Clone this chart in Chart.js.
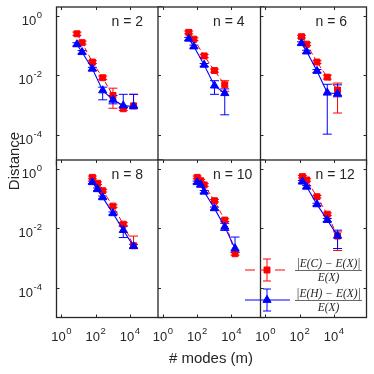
<!DOCTYPE html>
<html>
<head>
<meta charset="utf-8">
<script src="https://cdn.jsdelivr.net/npm/chart.js@4.4.1/dist/chart.umd.min.js"></script>
<style>
    body { margin: 0; background: #fff; }
    #wrap { position: relative; width: 374px; height: 374px; overflow: hidden; }
    #wrap canvas { position: absolute; left: 0; top: 0; }
    .lbl { position: absolute; font-family: "Liberation Sans", Arial, sans-serif; font-size: 15px; font-weight: normal; color: #262626; white-space: nowrap; }
    #xlab { left: 211px; top: 357px; transform: translate(-50%, -50%); }
</style>
</head>
<body>
<div id="wrap">
    <canvas id="c0" width="374" height="374"></canvas>
    <canvas id="c1" width="374" height="374"></canvas>
    <canvas id="c2" width="374" height="374"></canvas>
    <canvas id="c3" width="374" height="374"></canvas>
    <canvas id="c4" width="374" height="374"></canvas>
    <canvas id="c5" width="374" height="374"></canvas>
    <div class="lbl" id="xlab"># modes (m)</div>
</div>
<script>
// Valores (un sub-array por panel, n = 2..12)
const panelN = [2, 4, 6, 8, 10, 12];
const xTickExp = [0, 2, 4];
const yTickExp = [0, -2, -4];
const yTitle = 'Distance';

const modes = [
    [8, 16, 64, 256, 1024, 4096, 16384],
    [32, 64, 256, 1024, 4096],
    [128, 256, 1024, 4096, 16384],
    [64, 128, 256, 1024, 4096, 16384],
    [100, 160, 256, 1024, 4096, 16384],
    [144, 256, 1024, 4096, 16384]
];
// |E(C)-E(X)|/E(X)
const distC = [
    [0.25, 0.126, 0.028, 0.0083, 0.0021, 0.00075, 0.00094],
    [0.28, 0.165, 0.045, 0.0145, 0.0048],
    [0.2, 0.112, 0.028, 0.0087, 0.0032],
    [0.52, 0.33, 0.185, 0.056, 0.0138, 0.0026],
    [0.52, 0.4, 0.29, 0.085, 0.019, 0.0014],
    [0.55, 0.425, 0.116, 0.03, 0.0055]
];
const distCLow = [
    [0.22, 0.112, 0.025, 0.0073, 0.00078, 0.00066, 0.0008],
    [0.25, 0.148, 0.04, 0.0128, 0.0029],
    [0.18, 0.1, 0.025, 0.0075, 0.00054],
    [0.47, 0.3, 0.167, 0.05, 0.0122, 0.0021],
    [0.47, 0.36, 0.26, 0.077, 0.017, 0.00125],
    [0.5, 0.385, 0.105, 0.027, 0.0018]
];
const distCHigh = [
    [0.285, 0.142, 0.031, 0.0095, 0.0037, 0.00085, 0.0023],
    [0.31, 0.183, 0.05, 0.0163, 0.0066],
    [0.222, 0.125, 0.031, 0.0101, 0.0055],
    [0.575, 0.365, 0.205, 0.062, 0.0156, 0.0055],
    [0.575, 0.44, 0.32, 0.094, 0.021, 0.00155],
    [0.605, 0.465, 0.128, 0.033, 0.0076]
];
// |E(H)-E(X)|/E(X)
const distH = [
    [0.11, 0.06, 0.0166, 0.0031, 0.0015, 0.00096, 0.0009],
    [0.17, 0.093, 0.0225, 0.0045, 0.0025],
    [0.12, 0.063, 0.014, 0.0026, 0.0024],
    [0.355, 0.206, 0.11, 0.032, 0.0087, 0.0025],
    [0.355, 0.29, 0.17, 0.047, 0.0112, 0.0021],
    [0.37, 0.25, 0.064, 0.019, 0.0056]
];
const distHLow = [
    [0.097, 0.053, 0.0148, 0.0015, 0.0011, 0.0008, 0.00085],
    [0.152, 0.083, 0.02, 0.0023, 0.00047],
    [0.107, 0.056, 0.0124, 0.000105, 0.0019],
    [0.32, 0.185, 0.099, 0.0288, 0.0049, 0.0022],
    [0.32, 0.26, 0.153, 0.042, 0.0085, 0.0016],
    [0.335, 0.225, 0.058, 0.0168, 0.0021]
];
const distHHigh = [
    [0.125, 0.068, 0.0186, 0.004, 0.0021, 0.0023, 0.0023],
    [0.19, 0.104, 0.025, 0.0066, 0.0035],
    [0.134, 0.07, 0.0157, 0.005, 0.0048],
    [0.39, 0.228, 0.122, 0.0355, 0.0118, 0.0029],
    [0.39, 0.32, 0.188, 0.052, 0.0148, 0.0051],
    [0.405, 0.275, 0.07, 0.0215, 0.0087]
];

// Layout de los paneles (px)
const colLeft = [56.5, 158, 260.5];
const panelW = 106;
const rowTop = [7, 160];
const panelH = 157.5;
const pxPerDecX = 17.1;
const xMinExp = -0.292;
const yMinExp = -5, yMaxExp = 0.3;
const frameColor = '#262626';
const FONT = '"Liberation Sans", Arial, sans-serif';

function drawPow(ctx, exp, x, y, anchor) {
    ctx.font = '13px ' + FONT;
    const wBase = ctx.measureText('10').width;
    ctx.font = '9.5px ' + FONT;
    const e = String(exp);
    const wExp = ctx.measureText(e).width;
    const w = wBase + wExp + 0.5;
    const x0 = anchor === 'right' ? x - w : x - w / 2;
    ctx.textAlign = 'left';
    ctx.textBaseline = 'alphabetic';
    ctx.font = '13px ' + FONT;
    ctx.fillText('10', x0, y);
    ctx.font = '9.5px ' + FONT;
    ctx.fillText(e, x0 + wBase + 0.5, y - 7);
}

function drawLegend(chart) {
    const ctx = chart.ctx;
    const rows = [
        { ds: chart.data.datasets[0], y: 270, num: '|E(C) \u2212 E(X)|' },
        { ds: chart.data.datasets[1], y: 300, num: '|E(H) \u2212 E(X)|' }
    ];
    rows.forEach(r => {
        ctx.save();
        ctx.strokeStyle = r.ds.borderColor;
        ctx.lineWidth = r.ds.borderWidth;
        ctx.setLineDash(r.ds.legendDash || []);
        ctx.beginPath();
        ctx.moveTo(245, r.y);
        ctx.lineTo(290, r.y);
        ctx.stroke();
        ctx.setLineDash([]);
        ctx.lineWidth = 1;
        ctx.beginPath();
        ctx.moveTo(267, r.y - 11); ctx.lineTo(267, r.y + 11);
        ctx.moveTo(263, r.y - 11); ctx.lineTo(271, r.y - 11);
        ctx.moveTo(263, r.y + 11); ctx.lineTo(271, r.y + 11);
        ctx.stroke();
        ctx.fillStyle = r.ds.pointBackgroundColor;
        ctx.strokeStyle = r.ds.pointBorderColor;
        ctx.lineWidth = r.ds.pointBorderWidth;
        Chart.helpers.drawPoint(ctx, {
            pointStyle: r.ds.pointStyle, radius: r.ds.pointRadius,
            borderWidth: r.ds.pointBorderWidth, rotation: 0
        }, 267, r.y);
        // fracción
        ctx.fillStyle = frameColor;
        ctx.strokeStyle = frameColor;
        ctx.font = 'italic 11.5px "Liberation Serif", "Times New Roman", serif';
        ctx.textAlign = 'center';
        ctx.textBaseline = 'alphabetic';
        ctx.fillText(r.num, 328.5, r.y - 3);
        ctx.fillText('E(X)', 328.5, r.y + 10.5);
        ctx.lineWidth = 0.7;
        ctx.beginPath();
        ctx.moveTo(295, r.y + 0.5);
        ctx.lineTo(362, r.y + 0.5);
        ctx.stroke();
        ctx.restore();
    });
}

const panelPlugin = {
    id: 'panelFrame',
    beforeDraw(chart) {
        const a = chart.chartArea;
        const ctx = chart.ctx;
        ctx.save();
        ctx.fillStyle = '#fff';
        ctx.fillRect(a.left, a.top, a.right - a.left, a.bottom - a.top);
        ctx.restore();
    },
    beforeDatasetsDraw(chart) {
        const ctx = chart.ctx;
        const ys = chart.scales.y;
        ctx.save();
        chart.data.datasets.forEach((ds, di) => {
            const meta = chart.getDatasetMeta(di);
            ctx.strokeStyle = ds.borderColor;
            ctx.lineWidth = 1;
            ctx.beginPath();
            meta.data.forEach((pt, i) => {
                const y1 = ys.getPixelForValue(ds.errLow[i]);
                const y2 = ys.getPixelForValue(ds.errHigh[i]);
                ctx.moveTo(pt.x, y1); ctx.lineTo(pt.x, y2);
                ctx.moveTo(pt.x - 4.5, y1); ctx.lineTo(pt.x + 4.5, y1);
                ctx.moveTo(pt.x - 4.5, y2); ctx.lineTo(pt.x + 4.5, y2);
            });
            ctx.stroke();
        });
        ctx.restore();
    },
    afterDraw(chart, args, opts) {
        const ctx = chart.ctx;
        const a = chart.chartArea;
        const xs = chart.scales.x, ys = chart.scales.y;
        ctx.save();
        ctx.strokeStyle = frameColor;
        ctx.lineWidth = 1.3;
        ctx.strokeRect(a.left, a.top, a.right - a.left, a.bottom - a.top);
        ctx.lineWidth = 1;
        ctx.beginPath();
        xTickExp.forEach(e => {
            const x = Math.round(xs.getPixelForValue(Math.pow(10, e))) + 0.5;
            ctx.moveTo(x, a.bottom); ctx.lineTo(x, a.bottom - 3);
            ctx.moveTo(x, a.top); ctx.lineTo(x, a.top + 3);
        });
        yTickExp.forEach(e => {
            const y = Math.round(ys.getPixelForValue(Math.pow(10, e))) + 0.5;
            ctx.moveTo(a.left, y); ctx.lineTo(a.left + 3, y);
            ctx.moveTo(a.right, y); ctx.lineTo(a.right - 3, y);
        });
        ctx.stroke();
        ctx.fillStyle = frameColor;
        if (opts.yLabels) {
            yTickExp.forEach(e => drawPow(ctx, e, 42, ys.getPixelForValue(Math.pow(10, e)) + 9, 'right'));
        }
        if (opts.xLabels) {
            xTickExp.forEach(e => drawPow(ctx, e, xs.getPixelForValue(Math.pow(10, e)), a.bottom + 23.5, 'center'));
        }
        if (opts.yTitle) {
            // título del eje y, centrado entre las dos filas
            ctx.save();
            ctx.translate(19, 161);
            ctx.rotate(-Math.PI / 2);
            ctx.font = '15px ' + FONT;
            ctx.textAlign = 'center';
            ctx.textBaseline = 'alphabetic';
            ctx.fillText(yTitle, 0, 0);
            ctx.restore();
        }
        ctx.font = '14px ' + FONT;
        ctx.textAlign = 'left';
        ctx.textBaseline = 'alphabetic';
        ctx.fillText('n = ' + opts.n, a.left + 55, a.top + 18.5);
        ctx.restore();
        if (opts.legend) drawLegend(chart);
    }
};

panelN.forEach((n, p) => {
    const col = p % 3, row = Math.floor(p / 3);
    const left = colLeft[col], top = rowTop[row];
    const xMaxExp = xMinExp + panelW / pxPerDecX;
    new Chart(document.getElementById('c' + p), {
        type: 'line',
        data: {
            datasets: [
                {
                    label: '|E(C)-E(X)|/E(X)',
                    data: modes[p].map((m, i) => ({ x: m, y: distC[p][i] })),
                    errLow: distCLow[p],
                    errHigh: distCHigh[p],
                    borderColor: '#ff0000',
                    borderWidth: 1,
                    borderDash: [5, 3],
                    legendDash: [10, 5],
                    pointStyle: 'rect',
                    pointRadius: 4.2,
                    pointBackgroundColor: '#ff0000',
                    pointBorderColor: '#ff0000',
                    pointBorderWidth: 1,
                    tension: 0,
                    order: 2
                },
                {
                    label: '|E(H)-E(X)|/E(X)',
                    data: modes[p].map((m, i) => ({ x: m, y: distH[p][i] })),
                    errLow: distHLow[p],
                    errHigh: distHHigh[p],
                    borderColor: '#0000ff',
                    borderWidth: 1.1,
                    pointStyle: 'triangle',
                    pointRadius: 4.7,
                    pointBackgroundColor: '#0000ff',
                    pointBorderColor: '#0000ff',
                    pointBorderWidth: 1,
                    tension: 0,
                    order: 1
                }
            ]
        },
        options: {
            responsive: false,
            animation: false,
            events: [],
            layout: {
                padding: { left: left, top: top, right: 374 - left - panelW, bottom: 374 - top - panelH }
            },
            scales: {
                x: { type: 'logarithmic', display: false, min: Math.pow(10, xMinExp), max: Math.pow(10, xMaxExp) },
                y: { type: 'logarithmic', display: false, min: Math.pow(10, yMinExp), max: Math.pow(10, yMaxExp) }
            },
            plugins: {
                legend: { display: false },
                tooltip: { enabled: false },
                panelFrame: { n: n, yLabels: col === 0, xLabels: row === 1, legend: p === 5, yTitle: p === 0 }
            }
        },
        plugins: [panelPlugin]
    });
});
</script>
</body>
</html>
